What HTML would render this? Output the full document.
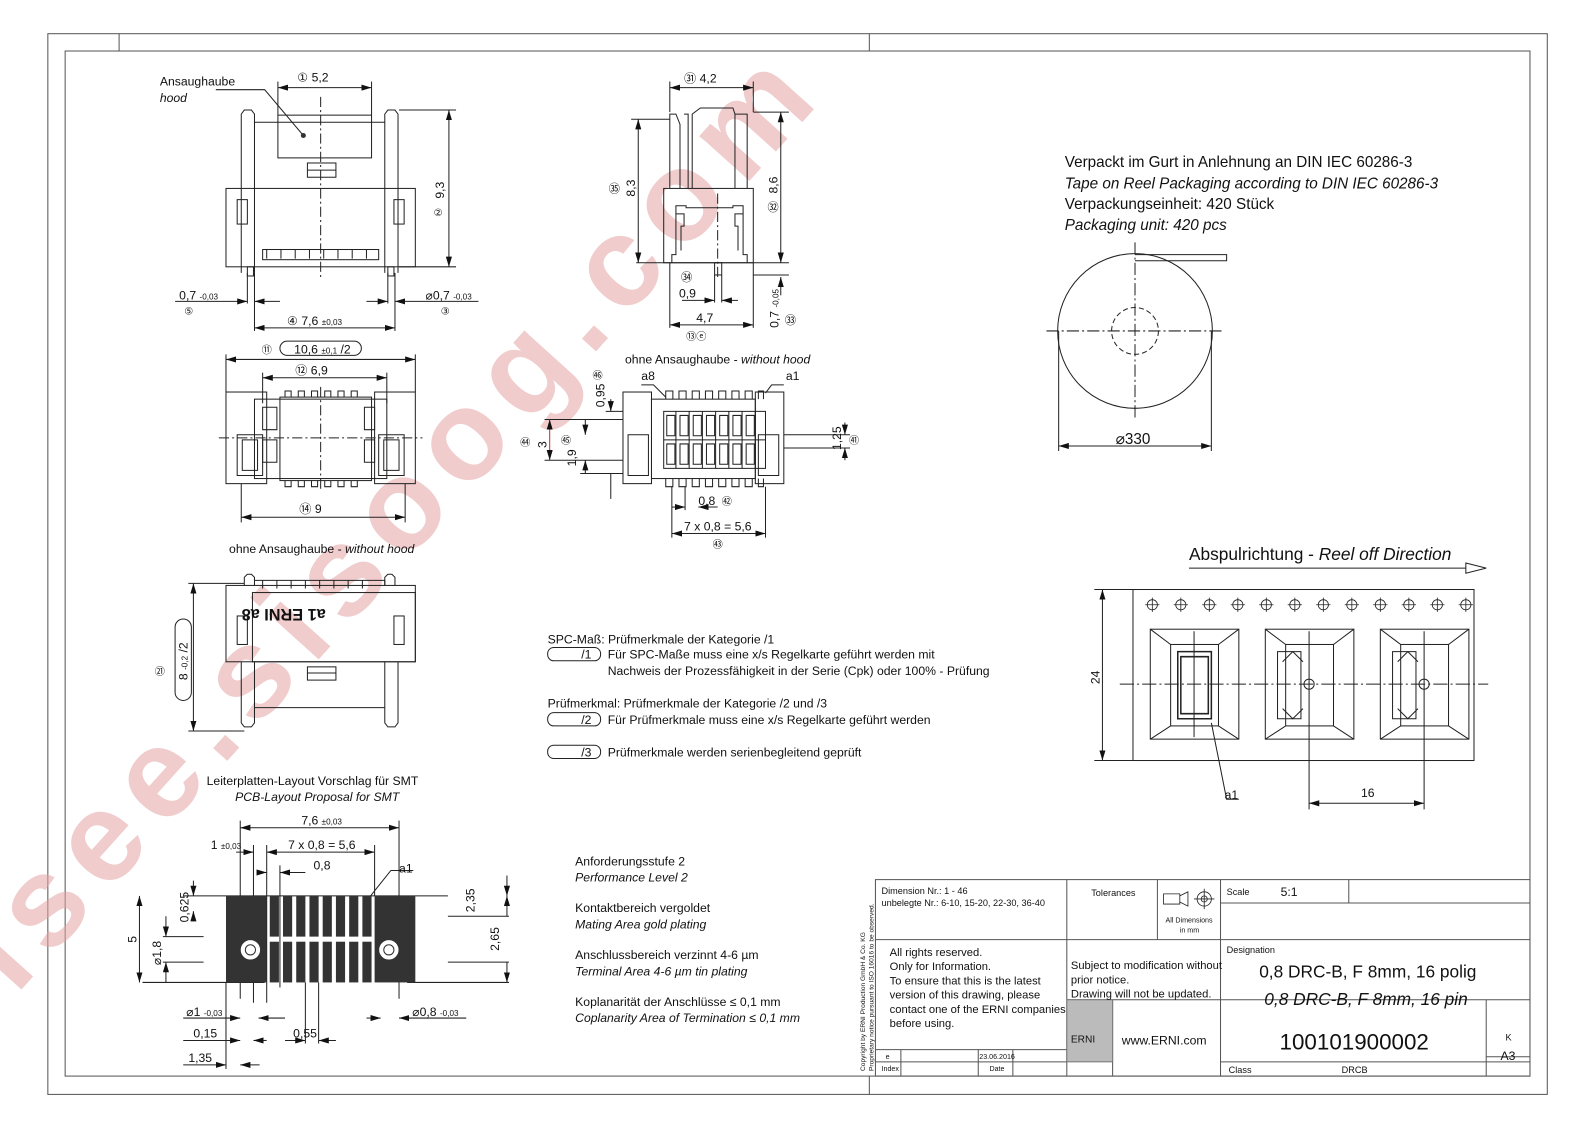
<!DOCTYPE html>
<html><head><meta charset="utf-8"><style>
html,body{margin:0;padding:0;background:#fff;}
svg{display:block;}
text{font-family:"Liberation Sans Narrow","Liberation Sans",sans-serif;fill:#111;}
.it{font-style:italic;}
</style></head><body>
<svg width="1588" height="1122" viewBox="0 0 1560 1102" xmlns="http://www.w3.org/2000/svg">
<defs>
<marker id="a" viewBox="0 0 10 6" refX="10" refY="3" markerWidth="10" markerHeight="6" orient="auto-start-reverse" markerUnits="userSpaceOnUse"><path d="M0,0L10,3L0,6z" fill="#111"/></marker>
</defs>
<rect width="1560" height="1102" fill="#fff"/>
<g fill="none" stroke="#555" stroke-width="1">
<rect x="47" y="33" width="1473" height="1042"/>
<rect x="64" y="50" width="1439" height="1007"/>
<line x1="117" y1="33" x2="117" y2="50"/><line x1="854" y1="33" x2="854" y2="50"/>
<line x1="854" y1="1057" x2="854" y2="1075"/>
</g>

<text x="410" y="540" transform="rotate(-48 410 540)" text-anchor="middle" font-size="125" font-weight="bold" fill="#e3a3a3" fill-opacity="0.55" textLength="1180" style="font-family:'Liberation Sans',sans-serif;fill:#e3a3a3">isee.sisoog.com</text>

<g stroke="#222" stroke-width="1" fill="none">
<path d="M237,268V112l3,-4h7l3,4V268M378,268V112l3,-4h7l3,4V268"/>
<rect x="273" y="113" width="92" height="42"/>
<line x1="250" y1="120" x2="378" y2="120"/>
<rect x="302" y="160" width="28" height="14"/><line x1="302" y1="167" x2="330" y2="167"/>
<rect x="222" y="185" width="186" height="77"/>
<rect x="233" y="196" width="10" height="24"/><rect x="387" y="196" width="10" height="24"/>
<rect x="258" y="245" width="114" height="10"/>
<path d="M262,245v9M276,245v9M290,245v9M304,245v9M318,245v9M332,245v9M346,245v9M360,245v9"/>
<rect x="243" y="262" width="6" height="9"/><rect x="381" y="262" width="6" height="9"/>
<line x1="315" y1="95" x2="315" y2="272" stroke-dasharray="10,3,2,3"/>
<line x1="273" y1="86" x2="365" y2="86" marker-start="url(#a)" marker-end="url(#a)"/>
<line x1="273" y1="80" x2="273" y2="113"/><line x1="365" y1="80" x2="365" y2="113"/>
<line x1="392" y1="108" x2="448" y2="108"/><line x1="392" y1="262" x2="448" y2="262"/>
<line x1="441" y1="108" x2="441" y2="262" marker-start="url(#a)" marker-end="url(#a)"/>
<line x1="172" y1="296" x2="243" y2="296" marker-end="url(#a)"/><line x1="250" y1="296" x2="275" y2="296" marker-start="url(#a)"/>
<line x1="360" y1="296" x2="381" y2="296" marker-end="url(#a)"/><line x1="388" y1="296" x2="470" y2="296" marker-start="url(#a)"/>
<path d="M243,268v30M250,268v57M381,268v30M388,268v57"/>
<line x1="250" y1="322" x2="388" y2="322" marker-start="url(#a)" marker-end="url(#a)"/>
<path d="M212,88h48l38,45"/>

<path d="M658,185V112h6l4,10V185M672,112h4v73M680,185V112l8,-6h32l2,6v73M722,112h12v73"/>
<rect x="652" y="185" width="88" height="73"/>
<path d="M660,258v-8h4v-48h10v2h46v-2h10v48h4v8M664,210h8v12h-3v24M730,210h-8v12h3v24"/>
<rect x="702" y="258" width="7" height="12"/>
<line x1="705" y1="190" x2="705" y2="272" stroke-dasharray="10,3,2,3"/>
<line x1="658" y1="86" x2="740" y2="86" marker-start="url(#a)" marker-end="url(#a)"/>
<path d="M658,80v30M740,80v30M620,117h38M740,110h35M625,258h150M740,270h35"/>
<line x1="627" y1="117" x2="627" y2="258" marker-start="url(#a)" marker-end="url(#a)"/>
<line x1="767" y1="110" x2="767" y2="258" marker-start="url(#a)" marker-end="url(#a)"/>
<line x1="767" y1="272" x2="767" y2="290" marker-start="url(#a)"/>
<line x1="670" y1="295" x2="702" y2="295" marker-end="url(#a)"/><line x1="709" y1="295" x2="725" y2="295" marker-start="url(#a)"/>
<path d="M702,270v27M709,270v27M658,258v64M740,258v64"/>
<line x1="658" y1="319" x2="740" y2="319" marker-start="url(#a)" marker-end="url(#a)"/>

<line x1="222" y1="353" x2="408" y2="353" marker-start="url(#a)" marker-end="url(#a)"/>
<line x1="258" y1="371" x2="380" y2="371" marker-start="url(#a)" marker-end="url(#a)"/>
<path d="M222,348v37M408,348v37M258,366v30M380,366v30M237,475v38M398,475v38"/>
<rect x="222" y="385" width="40" height="90"/><rect x="368" y="385" width="40" height="90"/>
<rect x="250" y="392" width="130" height="78"/>
<rect x="275" y="390" width="90" height="82"/>
<path d="M233,427h25v40h-25zM238,432h15v30h-15zM372,427h25v40h-25zM377,432h15v30h-15z"/>
<path d="M280,390v-6h6v6M293,390v-6h6v6M306,390v-6h6v6M319,390v-6h6v6M332,390v-6h6v6M345,390v-6h6v6M280,472v6h6v-6M293,472v6h6v-6M306,472v6h6v-6M319,472v6h6v-6M332,472v6h6v-6M345,472v6h6v-6"/>
<path d="M258,400h14v22h-14zM258,432h14v22h-14zM358,400h10v22h-10zM358,432h10v22h-10z"/>
<line x1="315" y1="380" x2="315" y2="480" stroke-dasharray="10,3,2,3"/>
<line x1="215" y1="430" x2="415" y2="430" stroke-dasharray="10,3,2,3"/>
<line x1="237" y1="508" x2="398" y2="508" marker-start="url(#a)" marker-end="url(#a)"/>

<rect x="612" y="385" width="28" height="90"/><rect x="742" y="385" width="28" height="90"/>
<rect x="640" y="392" width="102" height="78"/>
<path d="M617,427h20v40h-20zM745,427h20v40h-20z"/>
<path d="M652,404h100v56h-100zM652,432h100"/>
<path d="M664,404v56M677,404v56M690,404v56M703,404v56M716,404v56M729,404v56M742,404v56"/>
<path d="M654,392v-8h7v8M667,392v-8h7v8M680,392v-8h7v8M693,392v-8h7v8M706,392v-8h7v8M719,392v-8h7v8M732,392v-8h7v8M745,392v-8h5v8"/>
<path d="M654,470v8h7v-8M667,470v8h7v-8M680,470v8h7v-8M693,470v8h7v-8M706,470v8h7v-8M719,470v8h7v-8M732,470v8h7v-8M745,470v8h5v-8"/>
<path d="M655,408h8v20h-8zM668,408h8v20h-8zM681,408h8v20h-8zM694,408h8v20h-8zM707,408h8v20h-8zM720,408h8v20h-8zM733,408h8v20h-8zM655,436h8v20h-8zM668,436h8v20h-8zM681,436h8v20h-8zM694,436h8v20h-8zM707,436h8v20h-8zM720,436h8v20h-8zM733,436h8v20h-8z"/>
<path d="M630,378h12l12,12M770,378h-12l-6,8"/>
<line x1="540" y1="412" x2="540" y2="452" stroke="#b33" marker-start="url(#a)" marker-end="url(#a)"/>
<line x1="575" y1="412" x2="575" y2="427" marker-end="url(#a)"/><line x1="575" y1="452" x2="575" y2="465" marker-start="url(#a)"/>
<line x1="600" y1="392" x2="600" y2="404" marker-end="url(#a)"/><line x1="600" y1="465" x2="600" y2="490"/>
<path d="M535,412h77M535,452h77M570,465h42M595,404h17"/>
<line x1="830" y1="415" x2="830" y2="427" marker-end="url(#a)"/><line x1="830" y1="440" x2="830" y2="452" marker-start="url(#a)"/>
<path d="M770,427h65M770,440h65"/>
<line x1="660" y1="498" x2="673" y2="498" marker-end="url(#a)"/><line x1="686" y1="498" x2="705" y2="498" marker-start="url(#a)"/>
<line x1="660" y1="524" x2="752" y2="524" marker-start="url(#a)" marker-end="url(#a)"/>
<path d="M660,478v50M752,478v50M673,478v23"/>

<rect x="222" y="575" width="186" height="75"/>
<rect x="248" y="582" width="160" height="68"/>
<path d="M237,650v60l3,4h7l3,-4v-60M378,650v60l3,4h7l3,-4v-60M250,695h128"/>
<path d="M240,575v-8l3,-3h4l3,3v8M378,575v-8l3,-3h4l3,3v8"/>
<path d="M250,575v-5h128v5M258,570v8M272,570v8M286,570v8M300,570v8M314,570v8M328,570v8M342,570v8M356,570v8"/>
<rect x="233" y="605" width="10" height="28"/><rect x="387" y="605" width="10" height="28"/>
<rect x="302" y="655" width="28" height="13"/><line x1="302" y1="661" x2="330" y2="661"/>
<line x1="190" y1="573" x2="190" y2="718" marker-start="url(#a)" marker-end="url(#a)"/>
<path d="M185,573h55M185,718h55"/>
<rect x="172" y="608" width="16" height="80" rx="8"/>

<line x1="236" y1="813" x2="392" y2="813" marker-start="url(#a)" marker-end="url(#a)"/>
<line x1="232" y1="837" x2="249" y2="837" marker-end="url(#a)"/><line x1="262" y1="837" x2="368" y2="837" marker-start="url(#a)" marker-end="url(#a)"/>
<line x1="255" y1="857" x2="262" y2="857" marker-end="url(#a)"/><line x1="275" y1="857" x2="300" y2="857" marker-start="url(#a)"/>
<path d="M236,806v175M392,806v175M249,830v155M262,830v155M275,850v120M368,830v50M364,880l20,-25h22"/>
<path d="M180,880h260M160,920h40M160,945h40M440,900h60M440,945h60M140,965h120M400,965h100"/>
<line x1="498" y1="860" x2="498" y2="880" marker-end="url(#a)"/><line x1="498" y1="900" x2="498" y2="880" marker-end="url(#a)"/>
<line x1="498" y1="945" x2="498" y2="965" marker-end="url(#a)"/>
<line x1="137" y1="880" x2="137" y2="965" marker-start="url(#a)" marker-end="url(#a)"/>
<line x1="163" y1="900" x2="163" y2="920" marker-end="url(#a)"/><line x1="163" y1="965" x2="163" y2="945" marker-end="url(#a)"/>
<line x1="190" y1="865" x2="190" y2="880" marker-end="url(#a)"/><line x1="190" y1="905" x2="190" y2="895" marker-end="url(#a)"/>
<line x1="180" y1="1000" x2="236" y2="1000" marker-end="url(#a)"/><line x1="254" y1="1000" x2="280" y2="1000" marker-start="url(#a)"/>
<line x1="360" y1="1000" x2="374" y2="1000" marker-end="url(#a)"/><line x1="392" y1="1000" x2="458" y2="1000" marker-start="url(#a)"/>
<line x1="180" y1="1022" x2="236" y2="1022" marker-end="url(#a)"/><line x1="249" y1="1022" x2="262" y2="1022" marker-start="url(#a)"/>
<line x1="280" y1="1022" x2="300" y2="1022" marker-end="url(#a)"/><line x1="313" y1="1022" x2="330" y2="1022" marker-start="url(#a)"/>
<line x1="180" y1="1046" x2="222" y2="1046" marker-end="url(#a)"/><line x1="236" y1="1046" x2="255" y2="1046" marker-start="url(#a)"/>
<path d="M222,965v85M300,965v60M313,965v60"/>

<circle cx="1115" cy="325" r="76"/>
<circle cx="1115" cy="325" r="23" stroke-dasharray="5,3"/>
<path d="M1115,250h90v6h-90"/>
<line x1="1028" y1="325" x2="1200" y2="325" stroke-dasharray="12,3,2,3"/>
<line x1="1115" y1="238" x2="1115" y2="410" stroke-dasharray="12,3,2,3"/>
<path d="M1040,325v118M1190,325v118"/>
<line x1="1040" y1="438" x2="1190" y2="438" marker-start="url(#a)" marker-end="url(#a)"/>

<path d="M1168,558h272"/><path d="M1440,553l20,5l-20,5z"/>
<rect x="1113" y="579" width="335" height="168"/>
<path d="M1075,579h38M1075,747h38"/>
<line x1="1083" y1="579" x2="1083" y2="747" marker-start="url(#a)" marker-end="url(#a)"/>
<g stroke-width="0.8">
<circle cx="1132" cy="594" r="5"/><circle cx="1160" cy="594" r="5"/><circle cx="1188" cy="594" r="5"/><circle cx="1216" cy="594" r="5"/><circle cx="1244" cy="594" r="5"/><circle cx="1272" cy="594" r="5"/><circle cx="1300" cy="594" r="5"/><circle cx="1328" cy="594" r="5"/><circle cx="1356" cy="594" r="5"/><circle cx="1384" cy="594" r="5"/><circle cx="1412" cy="594" r="5"/><circle cx="1440" cy="594" r="5"/>
<path d="M1125,594h14M1132,587v14M1153,594h14M1160,587v14M1181,594h14M1188,587v14M1209,594h14M1216,587v14M1237,594h14M1244,587v14M1265,594h14M1272,587v14M1293,594h14M1300,587v14M1321,594h14M1328,587v14M1349,594h14M1356,587v14M1377,594h14M1384,587v14M1405,594h14M1412,587v14M1433,594h14M1440,587v14"/>
</g>
<g id="pk">
<rect x="1130" y="618" width="87" height="108"/>
<rect x="1150" y="633" width="47" height="80"/>
<path d="M1130,618l20,15M1217,618l-20,15M1130,726l20,-13M1217,726l-20,-13"/>
</g>
<use href="#pk" x="113"/><use href="#pk" x="226"/>
<path d="M1157,640h33v66h-33zM1160,645h27v56h-27z" stroke-width="1.5"/>
<path d="M1255,640h23v66h-23zM1368,640h23v66h-23z"/>
<circle cx="1286" cy="672" r="5"/><circle cx="1399" cy="672" r="5"/>
<path d="M1260,650l10,-10l10,10M1260,696l10,10l10,-10M1373,650l10,-10l10,10M1373,696l10,10l10,-10"/>
<line x1="1100" y1="672" x2="1462" y2="672" stroke-dasharray="14,3,2,3"/>
<path d="M1173,620v104M1286,620v175M1399,620v175"/>
<line x1="1286" y1="789" x2="1399" y2="789" marker-start="url(#a)" marker-end="url(#a)"/>
<path d="M1190,710l15,75h12"/>

<rect x="538" y="636" width="52" height="13" rx="6"/>
<rect x="538" y="700" width="52" height="13" rx="6"/>
<rect x="538" y="732" width="52" height="13" rx="6"/>
<rect x="275" y="335" width="80" height="14" rx="7"/>

<g stroke="#555">
<rect x="860" y="864" width="643" height="193"/>
<path d="M860,923h643M1048,864v193M1137,864v59M1199,864v193M1325,864v23M1199,887h304M1048,982h455M1460,982v75M1460,1038h43M1199,1043h304M860,1031h188M860,1043h188M885,1031v26M961,1031v26M995,1031v26M1093,982v75"/>
</g>
<rect x="1048" y="982" width="45" height="61" fill="#bbb" stroke="#777"/>
<path d="M1143,878h16v10h-16zM1159,880l8,-4v14l-8,-4" stroke-width="0.8"/>
<circle cx="1183" cy="883" r="7" stroke-width="0.8"/><circle cx="1183" cy="883" r="3" stroke-width="0.8"/><path d="M1173,883h20M1183,873v20" stroke-width="0.8"/>
</g>

<g fill="#333" stroke="none">
<rect x="222" y="880" width="40" height="85"/><rect x="368" y="880" width="40" height="85"/>
<rect x="265" y="880" width="9" height="40"/><rect x="278" y="880" width="9" height="40"/><rect x="291" y="880" width="9" height="40"/><rect x="304" y="880" width="9" height="40"/><rect x="317" y="880" width="9" height="40"/><rect x="330" y="880" width="9" height="40"/><rect x="343" y="880" width="9" height="40"/><rect x="356" y="880" width="9" height="40"/>
<rect x="265" y="925" width="9" height="40"/><rect x="278" y="925" width="9" height="40"/><rect x="291" y="925" width="9" height="40"/><rect x="304" y="925" width="9" height="40"/><rect x="317" y="925" width="9" height="40"/><rect x="330" y="925" width="9" height="40"/><rect x="343" y="925" width="9" height="40"/><rect x="356" y="925" width="9" height="40"/>
<circle cx="246" cy="933" r="10" fill="#fff" stroke="#333"/><circle cx="382" cy="933" r="10" fill="#fff" stroke="#333"/>
<circle cx="246" cy="933" r="5" fill="#fff" stroke="#333"/><circle cx="382" cy="933" r="5" fill="#fff" stroke="#333"/>
<circle cx="298" cy="133" r="2.5"/>
</g>

<g font-size="12">
<text x="157" y="84">Ansaughaube</text><text x="157" y="100" class="it">hood</text>
<text x="292" y="80">① 5,2</text>
<text x="436" y="195" transform="rotate(-90 436 195)">9,3</text><text x="426" y="212" font-size="10">②</text>
<text x="176" y="294">0,7 <tspan font-size="8">-0,03</tspan></text><text x="181" y="309" font-size="10">⑤</text>
<text x="418" y="294">⌀0,7 <tspan font-size="8">-0,03</tspan></text><text x="433" y="309" font-size="10">③</text>
<text x="282" y="319">④ 7,6 <tspan font-size="8">±0,03</tspan></text>
<text x="672" y="81">㉛ 4,2</text>
<text x="624" y="193" transform="rotate(-90 624 193)">8,3</text><text x="598" y="189" font-size="11">㉟</text>
<text x="764" y="190" transform="rotate(-90 764 190)">8,6</text><text x="754" y="207" font-size="11">㉜</text>
<text x="669" y="276" font-size="11" fill="#b33">㉞</text>
<text x="667" y="292">0,9</text><text x="684" y="316">4,7</text>
<text x="674" y="334" font-size="10">⑬ⓔ</text>
<text x="765" y="322" transform="rotate(-90 765 322)">0,7 <tspan font-size="8">-0,05</tspan></text><text x="771" y="318" font-size="11">㉝</text>
<text x="257" y="347" font-size="10">⑪</text><text x="289" y="347">10,6 <tspan font-size="8">±0,1</tspan> /2</text>
<text x="290" y="368">⑫ 6,9</text>
<text x="294" y="504">⑭ 9</text>
<text x="614" y="357">ohne Ansaughaube - <tspan class="it">without hood</tspan></text>
<text x="630" y="373">a8</text><text x="772" y="373">a1</text>
<text x="594" y="400" transform="rotate(-90 594 400)">0,95</text><text x="582" y="372" font-size="10" fill="#b33">㊻</text>
<text x="537" y="440" transform="rotate(-90 537 440)" fill="#b33">3</text><text x="511" y="438" font-size="10">㊹</text>
<text x="551" y="436" font-size="10">㊺</text>
<text x="566" y="458" transform="rotate(-90 566 458)">1,9</text>
<text x="826" y="442" transform="rotate(-90 826 442)">1,25</text><text x="834" y="436" font-size="10">㊶</text>
<text x="686" y="496">0,8</text><text x="709" y="496" font-size="10">㊷</text>
<text x="672" y="521">7 x 0,8 = 5,6</text><text x="700" y="538" font-size="10">㊸</text>
<text x="225" y="543">ohne Ansaughaube - <tspan class="it">without hood</tspan></text>
<text x="320" y="598" transform="rotate(180 320 598)" font-size="16" font-weight="bold">a1 ERNI a8</text>
<text x="152" y="663" font-size="10">㉑</text>
<text x="184" y="668" transform="rotate(-90 184 668)">8 <tspan font-size="8">-0,2</tspan> /2</text>
<text x="203" y="771">Leiterplatten-Layout Vorschlag für SMT</text>
<text x="231" y="787" class="it">PCB-Layout Proposal for SMT</text>
<text x="296" y="810">7,6 <tspan font-size="8">±0,03</tspan></text>
<text x="207" y="834">1 <tspan font-size="8">±0,03</tspan></text>
<text x="283" y="834">7 x 0,8 = 5,6</text>
<text x="308" y="854">0,8</text><text x="392" y="857">a1</text>
<text x="466" y="896" transform="rotate(-90 466 896)">2,35</text>
<text x="490" y="934" transform="rotate(-90 490 934)">2,65</text>
<text x="185" y="906" transform="rotate(-90 185 906)">0,625</text>
<text x="158" y="948" transform="rotate(-90 158 948)">⌀1,8</text>
<text x="134" y="926" transform="rotate(-90 134 926)" fill="#b33">5</text>
<text x="183" y="998">⌀1 <tspan font-size="8">-0,03</tspan></text>
<text x="405" y="998">⌀0,8 <tspan font-size="8">-0,03</tspan></text>
<text x="190" y="1019">0,15</text><text x="288" y="1019">0,55</text><text x="185" y="1043">1,35</text>
<text x="538" y="632">SPC-Maß:  Prüfmerkmale der Kategorie /1</text>
<text x="571" y="647">/1</text><text x="597" y="647">Für SPC-Maße muss eine x/s Regelkarte geführt werden mit</text>
<text x="597" y="663">Nachweis der Prozessfähigkeit in der Serie (Cpk) oder 100% - Prüfung</text>
<text x="538" y="695">Prüfmerkmal: Prüfmerkmale der Kategorie /2 und /3</text>
<text x="571" y="711">/2</text><text x="597" y="711">Für Prüfmerkmale muss eine x/s Regelkarte geführt werden</text>
<text x="571" y="743">/3</text><text x="597" y="743">Prüfmerkmale werden serienbegleitend geprüft</text>
<text x="565" y="850">Anforderungsstufe 2</text><text x="565" y="866" class="it">Performance Level 2</text>
<text x="565" y="896">Kontaktbereich vergoldet</text><text x="565" y="912" class="it">Mating Area gold plating</text>
<text x="565" y="942">Anschlussbereich verzinnt 4-6 µm</text><text x="565" y="958" class="it">Terminal Area 4-6 µm tin plating</text>
<text x="565" y="988">Koplanarität der Anschlüsse  ≤ 0,1 mm</text><text x="565" y="1004" class="it">Coplanarity Area of Termination  ≤ 0,1 mm</text>
<text x="1337" y="783">16</text><text x="1203" y="785">a1</text>
<text x="1080" y="672" transform="rotate(-90 1080 672)">24</text>
</g>
<g font-size="15">
<text x="1046" y="164">Verpackt im Gurt in Anlehnung an DIN IEC 60286-3</text>
<text x="1046" y="185" class="it">Tape on Reel Packaging according to DIN IEC 60286-3</text>
<text x="1046" y="205">Verpackungseinheit:  420 Stück</text>
<text x="1046" y="226" class="it">Packaging unit:  420 pcs</text>
<text x="1096" y="436">⌀330</text>
<text x="1168" y="550" font-size="17">Abspulrichtung - <tspan class="it">Reel off Direction</tspan></text>
</g>
<g font-size="9">
<text x="866" y="878">Dimension Nr.: 1 - 46</text>
<text x="866" y="890">unbelegte Nr.: 6-10, 15-20, 22-30, 36-40</text>
<text x="1072" y="880">Tolerances</text>
<text x="1145" y="906" font-size="7">All Dimensions</text><text x="1159" y="916" font-size="7">in mm</text>
<text x="1205" y="879">Scale</text><text x="1258" y="880" font-size="12">5:1</text>
<text x="1205" y="936">Designation</text>
<text x="874" y="939" font-size="11">All rights reserved.</text>
<text x="874" y="953" font-size="11">Only for Information.</text>
<text x="874" y="967" font-size="11">To ensure that this is the latest</text>
<text x="874" y="981" font-size="11">version of this drawing, please</text>
<text x="874" y="995" font-size="11">contact one of the ERNI companies</text>
<text x="874" y="1009" font-size="11">before using.</text>
<text x="1052" y="952" font-size="11">Subject to modification without</text>
<text x="1052" y="966" font-size="11">prior notice.</text>
<text x="1052" y="980" font-size="11">Drawing will not be updated.</text>
<text x="1237" y="960" font-size="17">0,8 DRC-B, F 8mm, 16 polig</text>
<text x="1242" y="987" font-size="17" class="it">0,8 DRC-B, F 8mm, 16 pin</text>
<text x="1102" y="1026" font-size="12">www.ERNI.com</text>
<text x="1257" y="1031" font-size="22">100101900002</text>
<text x="1479" y="1022">K</text><text x="1474" y="1041" font-size="12">A3</text>
<text x="1207" y="1054">Class</text><text x="1318" y="1054">DRCB</text>
<text x="870" y="1040" font-size="7">e</text><text x="962" y="1040" font-size="7">23.06.2016</text>
<text x="866" y="1052" font-size="7">Index</text><text x="972" y="1052" font-size="7">Date</text>
<text x="1052" y="1024" font-size="10" fill="#fff">ERNI</text>
<text x="850" y="1052" font-size="6.5" transform="rotate(-90 850 1052)">Copyright by ERNI Production GmbH &amp; Co. KG</text>
<text x="858" y="1052" font-size="6.5" transform="rotate(-90 858 1052)">Proprietary notice pursuant to ISO 16016 to be observed.</text>
</g>
</svg>
</body></html>
